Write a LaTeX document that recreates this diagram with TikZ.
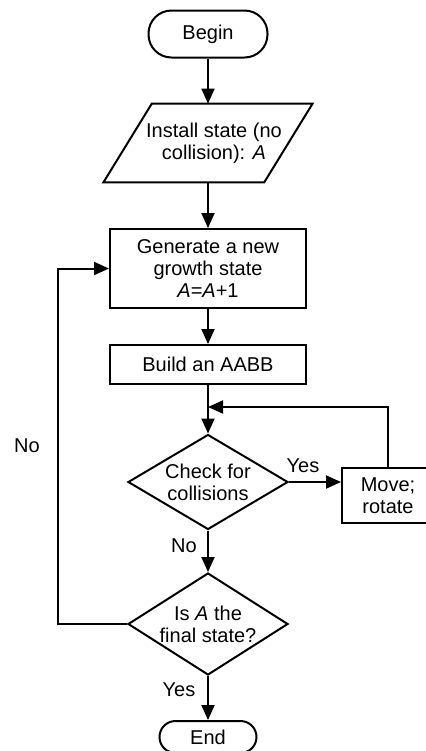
\documentclass[tikz,border=0pt]{standalone}
\usepackage{fontspec}
\setmainfont{Liberation Sans}
\usepackage{tikz}
\usetikzlibrary{shapes.geometric,arrows.meta}
\tikzstyle{terminal}=[rectangle,draw=black,line width=1pt,rounded corners=11.5pt,
                      inner sep=0pt,minimum width=59.5pt,minimum height=23.5pt]
\tikzstyle{inout}=[rectangle,inner sep=0pt,minimum width=80pt,
                   minimum height=39pt,align=center]
\tikzstyle{process}=[rectangle,draw=black,line width=1pt,
                     inner sep=0pt,minimum width=98pt,align=center]
\tikzstyle{decision}=[diamond,draw=black,line width=1pt,
                      inner sep=0pt,minimum width=80pt,align=center]
\tikzstyle{flow}=[line width=1pt,-{Triangle[length=7.5pt,width=6.5pt]}]

\begin{document}
\begin{tikzpicture}[x=0.5pt,y=-0.5pt,font=\fontsize{10}{11}\selectfont]
    \useasboundingbox (0,0) rectangle (425,751);
    \newcommand{\cx}{208}
    \newcommand{\slant}{12.1pt}
    \node (begin) at (\cx, 34) [terminal]{Begin};
    \node (install) at (\cx, 143) [inout]{\hspace*{6pt}Install state (no\\\hspace*{6pt}collision): \textit{A}};
    \draw[line width=1pt] ([xshift=\slant]install.north west) -- ([xshift=\slant]install.north east)
        -- ([xshift=-\slant]install.south east) -- ([xshift=-\slant]install.south west) -- cycle;
    \node (generate) at (\cx, 268.5) [process,minimum height=39.5pt]
        {Generate a new\\growth state\\\textit{A}=\textit{A}+1};
    \node (build) at (\cx, 364.5) [process,minimum height=19.5pt]{Build an AABB};
    \node (check) at (\cx, 482) [decision,minimum height=47.5pt,aspect=1.68]{Check for\\collisions};
    \node (move) at (388, 495.5) [process,minimum width=46pt,minimum height=27.5pt]
        {Move;\\rotate};
    \node (final) at (\cx, 624) [decision,minimum height=51pt,aspect=1.57]{Is \textit{A} the\\final state?};
    \node (end) at (\cx, 737) [terminal,minimum width=48.5pt,minimum height=16pt,rounded corners=8pt]{End};
    \coordinate (merge) at (\cx, 407);
    \coordinate (back) at (58, 268.5);
    \draw[flow] (begin) -- (install);
    \draw[flow] (install) -- (generate);
    \draw[flow] (generate) -- (build);
    \draw[flow] (build) -- (check);
    \draw[flow] (check.east) -- (check.east -| move.west);
    \draw[flow] (move.north) |- (merge);
    \draw[flow] (check) -- (final);
    \draw[flow] (final.west) -| (back) -- (generate.west);
    \draw[flow] (final) -- (end);
    \node (yes1) at (303, 466) {Yes};
    \node (no1) at (184, 546) {No};
    \node (no2) at (27, 446) {No};
    \node (yes2) at (179, 690) {Yes};
\end{tikzpicture}
\end{document}
